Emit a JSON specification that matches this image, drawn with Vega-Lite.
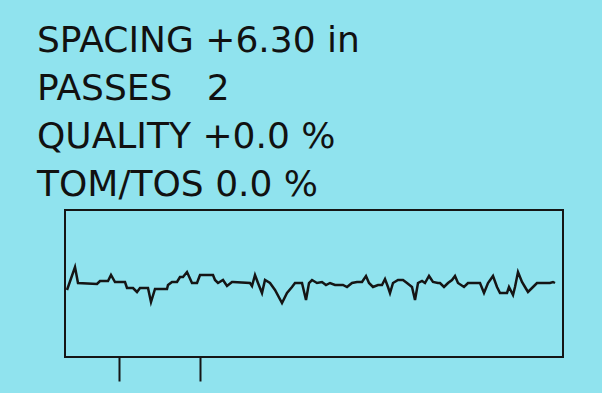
{
  "$schema": "https://vega.github.io/schema/vega-lite/v6.json",
  "width": 498,
  "height": 147,
  "autosize": "none",
  "padding": {"left": 65, "top": 210, "right": 39, "bottom": 36},
  "background": "#90e3ee",
  "title": {
    "text": ["SPACING\u00a0+6.30\u00a0in", "PASSES\u00a0\u00a0\u00a02", "QUALITY\u00a0+0.0\u00a0%", "TOM/TOS\u00a00.0\u00a0%"],
    "anchor": "start",
    "frame": "group",
    "dx": -28,
    "offset": 6,
    "font": "DejaVu Sans",
    "fontSize": 36,
    "fontWeight": "normal",
    "lineHeight": 48,
    "color": "#111111"
  },
  "config": {
    "view": {"stroke": "#151515", "strokeWidth": 2, "fill": "#90e3ee"}
  },
  "data": {
    "values": [
      {"s": 2, "a": -7}, {"s": 10, "a": 16}, {"s": 13, "a": 0}, {"s": 32, "a": -1},
      {"s": 35, "a": 2}, {"s": 43, "a": 2}, {"s": 46, "a": 8}, {"s": 50, "a": 1},
      {"s": 60, "a": 1}, {"s": 62, "a": -5}, {"s": 68, "a": -5}, {"s": 72, "a": -9},
      {"s": 75, "a": -5}, {"s": 83, "a": -5}, {"s": 86, "a": -19}, {"s": 90, "a": -6},
      {"s": 102, "a": -6}, {"s": 103, "a": -2}, {"s": 107, "a": 1}, {"s": 112, "a": 1},
      {"s": 115, "a": 6}, {"s": 118, "a": 6}, {"s": 122, "a": 11}, {"s": 127, "a": 0},
      {"s": 132, "a": 0}, {"s": 135, "a": 8}, {"s": 148, "a": 8}, {"s": 150, "a": 3},
      {"s": 153, "a": 0}, {"s": 158, "a": 3}, {"s": 162, "a": -3}, {"s": 167, "a": 1},
      {"s": 168, "a": 1}, {"s": 185, "a": 0}, {"s": 187, "a": -3}, {"s": 190, "a": 8},
      {"s": 193, "a": 0}, {"s": 197, "a": -10}, {"s": 200, "a": 3}, {"s": 205, "a": 0},
      {"s": 210, "a": -7}, {"s": 217, "a": -20}, {"s": 222, "a": -10}, {"s": 227, "a": -4},
      {"s": 230, "a": 0}, {"s": 237, "a": 0}, {"s": 241, "a": -17}, {"s": 244, "a": 0},
      {"s": 247, "a": 3}, {"s": 252, "a": 0}, {"s": 257, "a": 1}, {"s": 261, "a": -2},
      {"s": 265, "a": 0}, {"s": 270, "a": -2}, {"s": 278, "a": -2}, {"s": 282, "a": -4},
      {"s": 287, "a": 0}, {"s": 292, "a": 1}, {"s": 297, "a": 1}, {"s": 301, "a": 7},
      {"s": 304, "a": 0}, {"s": 308, "a": -4}, {"s": 313, "a": -2}, {"s": 317, "a": -2},
      {"s": 320, "a": 4}, {"s": 323, "a": -4}, {"s": 325, "a": -10}, {"s": 328, "a": 0},
      {"s": 333, "a": 3}, {"s": 338, "a": 3}, {"s": 342, "a": 0}, {"s": 347, "a": -4},
      {"s": 350, "a": -17}, {"s": 353, "a": 0}, {"s": 357, "a": 2}, {"s": 360, "a": 0},
      {"s": 364, "a": 7}, {"s": 368, "a": 1}, {"s": 373, "a": 0}, {"s": 375, "a": 0},
      {"s": 379, "a": -4}, {"s": 383, "a": 0}, {"s": 387, "a": 3}, {"s": 390, "a": 7},
      {"s": 393, "a": 0}, {"s": 399, "a": -4}, {"s": 403, "a": 0}, {"s": 415, "a": 0},
      {"s": 419, "a": -10}, {"s": 423, "a": 0}, {"s": 428, "a": 7}, {"s": 432, "a": -4},
      {"s": 435, "a": -10}, {"s": 442, "a": -10}, {"s": 444, "a": -4}, {"s": 448, "a": -12},
      {"s": 450, "a": -4}, {"s": 453, "a": 11}, {"s": 457, "a": 1}, {"s": 460, "a": -4},
      {"s": 463, "a": -9}, {"s": 468, "a": -4}, {"s": 472, "a": 0}, {"s": 485, "a": 0},
      {"s": 488, "a": 1}, {"s": 490, "a": 0}
    ]
  },
  "layer": [
    {
      "mark": {"type": "line", "color": "#151515", "strokeWidth": 2.5, "interpolate": "linear"},
      "encoding": {
        "x": {
          "field": "s", "type": "quantitative",
          "scale": {"domain": [0, 498], "nice": false, "zero": false},
          "axis": {
            "values": [54, 135], "ticks": true, "tickSize": 24, "tickWidth": 2,
            "tickColor": "#151515", "labels": false, "domain": false, "grid": false, "title": null
          }
        },
        "y": {
          "field": "a", "type": "quantitative",
          "scale": {"domain": [-74, 73], "nice": false, "zero": false},
          "axis": null
        }
      }
    }
  ]
}
